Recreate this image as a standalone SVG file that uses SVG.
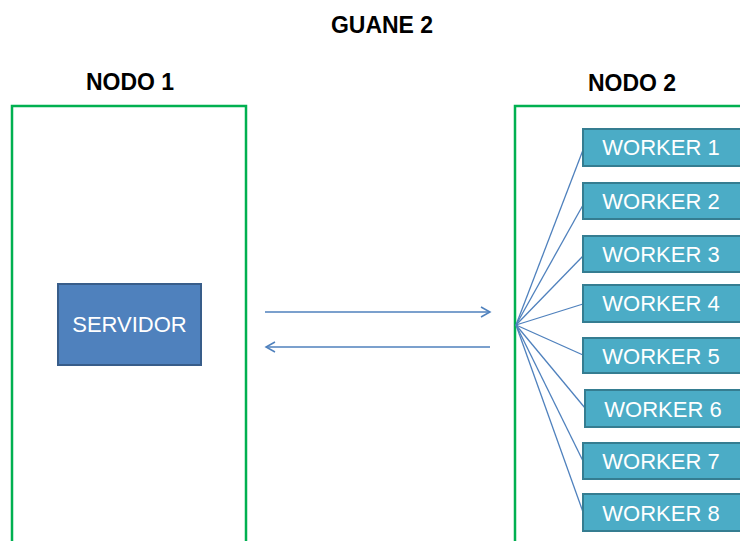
<svg xmlns="http://www.w3.org/2000/svg" width="740" height="541" viewBox="0 0 740 541">
<defs>
<style>
.title{font-family:"Liberation Sans",Arial,sans-serif;font-weight:bold;font-size:23px;fill:#000;text-anchor:middle}
.node{fill:none;stroke:#00b050;stroke-width:2.5}
.srv{fill:#4f81bd;stroke:#385d8a;stroke-width:2}
.wk{fill:#4bacc6;stroke:#357d91;stroke-width:2}
.lbl{font-family:"Liberation Sans",Arial,sans-serif;font-size:22px;fill:#fff;text-anchor:middle}
.ln{stroke:#4f81bd;stroke-width:1.3;fill:none}
</style>
<marker id="ah" markerWidth="12" markerHeight="12" refX="10" refY="6" orient="auto" markerUnits="userSpaceOnUse">
<path d="M1,1 L10,6 L1,11" fill="none" stroke="#4f81bd" stroke-width="1.5"/>
</marker>
</defs>
<rect width="740" height="541" fill="#fff"/>
<text class="title" x="382" y="33">GUANE 2</text>
<g id="nodo1">
<text class="title" x="130" y="90">NODO 1</text>
<rect class="node" x="12" y="106" width="234" height="450"/>
</g>
<g id="nodo2">
<text class="title" x="632" y="91">NODO 2</text>
<rect class="node" x="515" y="106" width="260" height="450"/>
</g>
<g id="servidor">
<rect class="srv" x="58" y="284" width="143" height="81"/>
<text class="lbl" x="129.5" y="332">SERVIDOR</text>
</g>
<g id="connectors">
<line class="ln" x1="265" y1="312" x2="490" y2="312" marker-end="url(#ah)"/>
<line class="ln" x1="490" y1="347" x2="266" y2="347" marker-end="url(#ah)"/>
<line class="ln" x1="516" y1="325" x2="583" y2="150"/>
<line class="ln" x1="516" y1="325" x2="583" y2="205"/>
<line class="ln" x1="516" y1="325" x2="583" y2="256"/>
<line class="ln" x1="516" y1="325" x2="583" y2="304"/>
<line class="ln" x1="516" y1="325" x2="583" y2="355"/>
<line class="ln" x1="516" y1="325" x2="585" y2="408"/>
<line class="ln" x1="516" y1="325" x2="583" y2="461"/>
<line class="ln" x1="516" y1="325" x2="583" y2="512"/>
</g>
<g id="worker1"><rect class="wk" x="583" y="129" width="170" height="37"/><text class="lbl" x="661" y="155">WORKER 1</text></g>
<g id="worker2"><rect class="wk" x="583" y="183" width="170" height="36"/><text class="lbl" x="661" y="209">WORKER 2</text></g>
<g id="worker3"><rect class="wk" x="583" y="236" width="170" height="36"/><text class="lbl" x="661" y="262">WORKER 3</text></g>
<g id="worker4"><rect class="wk" x="583" y="285" width="170" height="37"/><text class="lbl" x="661" y="311">WORKER 4</text></g>
<g id="worker5"><rect class="wk" x="583" y="338" width="170" height="35"/><text class="lbl" x="661" y="364">WORKER 5</text></g>
<g id="worker6"><rect class="wk" x="585" y="390" width="170" height="37"/><text class="lbl" x="663" y="417">WORKER 6</text></g>
<g id="worker7"><rect class="wk" x="583" y="443" width="170" height="36"/><text class="lbl" x="661" y="469">WORKER 7</text></g>
<g id="worker8"><rect class="wk" x="583" y="494" width="170" height="37"/><text class="lbl" x="661" y="521">WORKER 8</text></g>
</svg>
